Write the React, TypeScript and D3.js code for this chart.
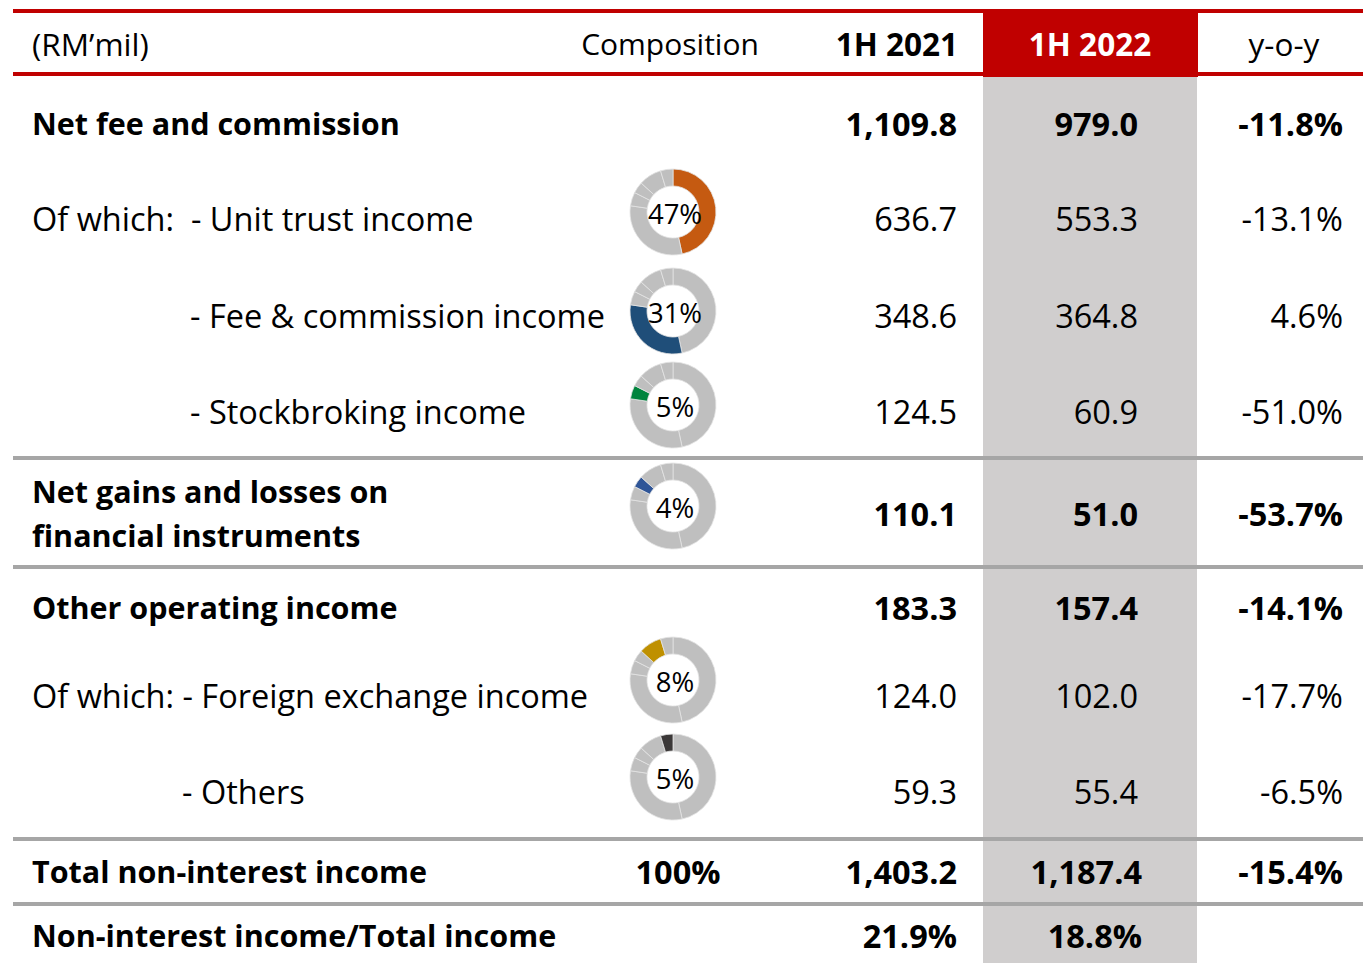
import React from 'react';
import * as d3 from 'd3';

// row labels (\n = two lines)
const rowLabels = [
  'Net fee and commission',
  'Of which:  - Unit trust income',
  '- Fee & commission income',
  '- Stockbroking income',
  'Net gains and losses on\nfinancial instruments',
  'Other operating income',
  'Of which: - Foreign exchange income',
  '- Others',
  'Total non-interest income',
  'Non-interest income/Total income',
];
const boldRows = [true, false, false, false, true, true, false, false, true, true];
const values2021 = [1109.8, 636.7, 348.6, 124.5, 110.1, 183.3, 124.0, 59.3, 1403.2, 21.9];
const values2022 = [979.0, 553.3, 364.8, 60.9, 51.0, 157.4, 102.0, 55.4, 1187.4, 18.8];
const yoy = [-11.8, -13.1, 4.6, -51.0, -53.7, -14.1, -17.7, -6.5, -15.4, null];
const percentRow = 9; // ratio row shows % values
// composition: donut share shown in the middle (null = no donut)
const composition = [null, 47, 31, 5, 4, null, 8, 5, null, null];
const compositionTotal = '100%';
// slices of the donut (1H 2022 components, in order round the ring)
const sliceRows = [1, 2, 3, 4, 6, 7];
const sliceColors = ['#C55A11', '#1F4E79', '#00843D', '#2F5597', '#BF9000', '#3B3838'];
const headers = ['(RM\u2019mil)', 'Composition', '1H 2021', '1H 2022', 'y-o-y'];

// layout
const W = 1363, H = 963;
const rowY = [123, 218, 315, 411, 513, 607, 695, 791, 871, 935];
const donutY = [null, 212, 311, 405, 506, null, 680, 777, null, null];
const labelX = [32, 32, 190, 190, 32, 32, 32, 182, 32, 32];
const separators = [458, 567, 839, 904];
const RED = '#C00000';
const FONT = '"Open Sans", "Noto Sans", sans-serif';

const locale = d3.formatLocale({ decimal: '.', thousands: ',', grouping: [3], currency: ['', ''], minus: '-' });

export default function App() {
  const fmt = locale.format(',.1f');
  const pie = d3.pie<number>().sort(null).value(d => d);
  const arcs = pie(sliceRows.map(r => values2022[r]));
  const arc = d3.arc<d3.PieArcDatum<number>>().innerRadius(26).outerRadius(43);

  return (
    <svg width={W} height={H} style={{ position: 'absolute', left: 0, top: 0, fontFamily: FONT }}>
      <rect x={0} y={0} width={W} height={H} fill="#fff" />
      {/* highlighted 1H 2022 column */}
      <rect x={983} y={77} width={214} height={H - 77} fill="#D0CECE" />
      <rect x={983} y={9} width={215} height={68} fill={RED} />
      <rect x={13} y={9} width={W - 13} height={4} fill={RED} />
      <rect x={13} y={72} width={W - 13} height={4} fill={RED} />

      {/* header */}
      <g fontSize={31.5} dominantBaseline="central">
        <text x={32} y={43}>{headers[0]}</text>
        <text x={670} y={43} textAnchor="middle" fontSize={30}>{headers[1]}</text>
        <text x={958} y={43} textAnchor="end" fontWeight={700}>{headers[2]}</text>
        <text x={1090} y={43} textAnchor="middle" fontWeight={700} fill="#fff">{headers[3]}</text>
        <text x={1284} y={43} textAnchor="middle">{headers[4]}</text>
      </g>

      {separators.map((y, i) => (
        <rect key={i} x={13} y={y - 2} width={W - 13} height={4} fill="#A6A6A6" />
      ))}

      {rowLabels.map((lab, i) => {
        const lines = lab.split('\n');
        const bold = boldRows[i];
        const y = rowY[i];
        const pct = i === percentRow;
        return (
          <g key={i} fontSize={bold ? 32.5 : 32.5} fontWeight={bold ? 700 : 400} dominantBaseline="central">
            {lines.map((ln, j) => (
              <text key={j} x={labelX[i]} y={lines.length > 1 ? y - 22 + j * 44 : y} fontSize={bold ? 30.5 : 32.5} style={{ whiteSpace: 'pre' }}>{ln}</text>
            ))}
            <text x={957} y={y} textAnchor="end">{fmt(values2021[i]) + (pct ? '%' : '')}</text>
            <text x={i >= 8 ? 1142 : 1138} y={y} textAnchor="end">{fmt(values2022[i]) + (pct ? '%' : '')}</text>
            {yoy[i] !== null && (
              <text x={1343} y={y} textAnchor="end">{locale.format('.1f')(yoy[i] as number) + '%'}</text>
            )}
            {i === 8 && <text x={678} y={y} textAnchor="middle">{compositionTotal}</text>}
          </g>
        );
      })}

      {/* composition donuts */}
      {composition.map((c, i) => {
        if (c === null) return null;
        const k = sliceRows.indexOf(i);
        return (
          <g key={i} transform={`translate(673,${donutY[i]})`}>
            {arcs.map((a, j) => (
              <path key={j} d={arc(a) as string} fill={j === k ? sliceColors[k] : '#BFBFBF'} stroke="#E3E3E3" strokeWidth={0.8} />
            ))}
            <text x={2} y={1} textAnchor="middle" dominantBaseline="central" fontSize={27.5}>{c + '%'}</text>
          </g>
        );
      })}
    </svg>
  );
}
